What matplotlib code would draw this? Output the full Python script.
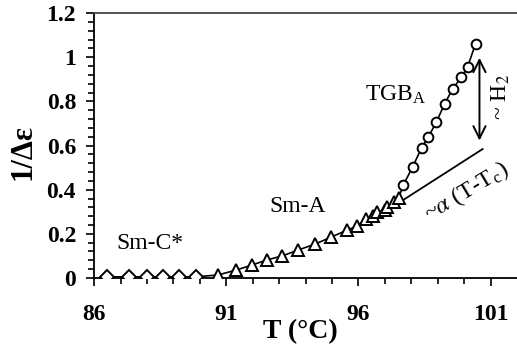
import matplotlib.pyplot as plt
import numpy as np

plt.rcParams['font.family'] = ['Liberation Serif', 'DejaVu Serif']
plt.rcParams['mathtext.fontset'] = 'stix'

# Sm-C* phase (diamonds)
t_smc = [86.49, 87.33, 88.0, 88.61, 89.22, 89.86]
e_smc = [0.005, 0.005, 0.005, 0.005, 0.005, 0.005]

# Sm-A phase (triangles)
t_sma = [90.70, 91.38, 91.98, 92.55, 93.12, 93.73, 94.37, 94.98, 95.58,
         95.95, 96.30, 96.55, 96.72, 97.0, 97.10, 97.33, 97.52]
e_sma = [0.014, 0.036, 0.059, 0.082, 0.100, 0.127, 0.154, 0.186, 0.217,
         0.235, 0.267, 0.281, 0.299, 0.310, 0.322, 0.344, 0.362]

# TGB_A phase (circles)
t_tgb = [97.70, 98.05, 98.39, 98.65, 98.95, 99.26, 99.56, 99.90, 100.13, 100.43]
e_tgb = [0.421, 0.503, 0.589, 0.639, 0.707, 0.788, 0.856, 0.910, 0.956, 1.060]

# linear fit ~alpha (T-Tc)
fit_t = [97.0, 100.70]
fit_e = [0.30, 0.584]

fig = plt.figure(figsize=(5.17, 3.53), dpi=100)
ax = fig.add_axes([0.182, 0.2125, 0.818, 0.7505])

all_t = t_smc + t_sma + t_tgb
all_e = e_smc + e_sma + e_tgb
ax.plot(all_t, all_e, color='black', lw=1.2, zorder=2)
ax.plot(fit_t, fit_e, color='black', lw=1.3, zorder=2)

mk = dict(color='black', mfc='white', mec='black', mew=1.4, ls='none', zorder=3)
ax.plot(t_smc, e_smc, marker='D', ms=7, **mk)
ax.plot(t_sma, e_sma, marker='^', ms=8.5, **mk)
ax.plot(t_tgb, e_tgb, marker='o', ms=7, **mk)

ax.annotate('', xy=(100.58, 0.61), xytext=(100.58, 1.01),
            arrowprops=dict(arrowstyle='<->', color='black', lw=1.4,
                            mutation_scale=22))

ax.text(88.12, 0.158, 'Sm-C*', fontsize=17, ha='center', va='center')
ax.text(93.69, 0.326, 'Sm-A', fontsize=17, ha='center', va='center')
ax.text(97.4, 0.83, r'TGB$_{\mathregular{A}}$', fontsize=17, ha='center', va='center')
ax.text(101.4, 0.82, r'~ H$_2$', fontsize=17, rotation=90, ha='center', va='center')
ax.text(100.1, 0.39, r'~$\alpha$ (T-T$_{\mathregular{c}}$)', fontsize=17,
        rotation=31, ha='center', va='center', rotation_mode='anchor')

ax.set_xlim(86, 102)
ax.set_ylim(0, 1.2)
ax.set_xticks([86, 91, 96, 101])
ax.set_xticks(np.arange(86, 102, 1), minor=True)
ax.set_yticks([0, 0.2, 0.4, 0.6, 0.8, 1, 1.2])
ax.set_yticklabels(['0', '0.2', '0.4', '0.6', '0.8', '1', '1.2'])
ax.set_yticks(np.arange(0, 1.21, 0.04), minor=True)
ax.tick_params(which='both', direction='out', width=1.2, labelsize=17)
ax.tick_params(which='major', length=6)
ax.tick_params(which='minor', length=4)
ax.tick_params(axis='x', pad=13)
ax.tick_params(axis='y', pad=7)
for lab in ax.get_xticklabels() + ax.get_yticklabels():
    lab.set_fontweight('bold')

ax.spines['right'].set_visible(False)
for s in ['left', 'bottom', 'top']:
    ax.spines[s].set_linewidth(1.3)
ax.spines['top'].set_color('#444444')

ax.set_xlabel('T (°C)', fontsize=20, fontweight='bold')
ax.set_ylabel('1/Δε', fontsize=22, fontweight='bold')
ax.xaxis.set_label_coords(0.487, -0.155)
ax.yaxis.set_label_coords(-0.135, 0.475)

fig.savefig('out.png', dpi=100)
